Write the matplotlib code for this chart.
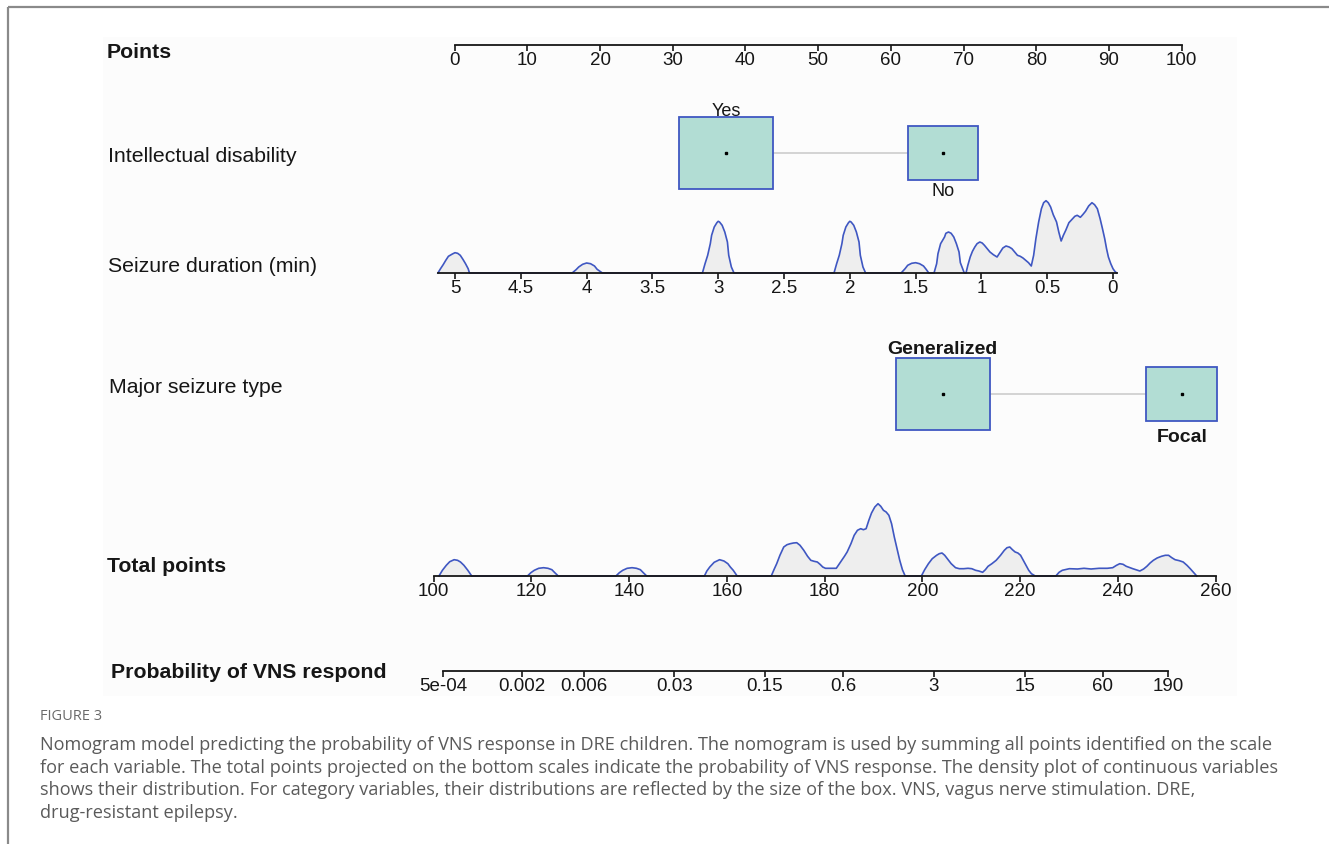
import numpy as np
import matplotlib
matplotlib.use("Agg")
import matplotlib.pyplot as plt
from matplotlib.patches import Rectangle

plt.rcParams['font.family'] = ['Liberation Sans', 'DejaVu Sans']

# ---- scale definitions ----
points_ticks = [0, 10, 20, 30, 40, 50, 60, 70, 80, 90, 100]

dur_ticks = [5, 4.5, 4, 3.5, 3, 2.5, 2, 1.5, 1, 0.5, 0]
dur_labels = ['5', '4.5', '4', '3.5', '3', '2.5', '2', '1.5', '1', '0.5', '0']

total_ticks = [100, 120, 140, 160, 180, 200, 220, 240, 260]

prob_ticks = [5e-4, 0.002, 0.006, 0.03, 0.15, 0.6, 3, 15, 60, 190]
prob_labels = ['5e-04', '0.002', '0.006', '0.03', '0.15', '0.6', '3', '15', '60', '190']

# categorical predictors: points given to each level and share of patients
id_levels = ['Yes', 'No']
id_points = [37.3, 67.2]
id_freq = [0.64, 0.36]

type_levels = ['Generalized', 'Focal']
type_points = [67.1, 100.0]
type_freq = [0.64, 0.36]

# density of seizure duration (min)
dur_x = [5.13, 5.11, 5.09, 5.07, 5.05, 5.02, 5.00, 4.98, 4.96, 4.94, 4.92, 4.90, 4.89,
         4.11, 4.08, 4.06, 4.03, 4.00, 3.97, 3.94, 3.92, 3.88,
         3.12, 3.10, 3.08, 3.06, 3.05, 3.03, 3.01, 3.00, 2.99, 2.97, 2.95, 2.93, 2.92, 2.90, 2.88,
         2.12, 2.10, 2.08, 2.06, 2.05, 2.03, 2.01, 2.00, 1.99, 1.97, 1.95, 1.93, 1.92, 1.90, 1.88,
         1.61, 1.58, 1.56, 1.53, 1.50, 1.47, 1.44, 1.42, 1.40,
         1.36, 1.34, 1.33, 1.31, 1.28, 1.27, 1.25, 1.23, 1.21, 1.19, 1.17, 1.16, 1.13,
         1.117, 1.103, 1.085, 1.068, 1.050, 1.033, 1.012, 0.994, 0.977, 0.956,
         0.935, 0.909, 0.881, 0.857, 0.837, 0.813, 0.789, 0.768, 0.747, 0.726,
         0.705, 0.684, 0.663, 0.642, 0.621, 0.603, 0.586, 0.565, 0.544, 0.527,
         0.509, 0.492, 0.474, 0.454, 0.429, 0.412, 0.394, 0.377, 0.359, 0.335,
         0.307, 0.290, 0.272, 0.248, 0.230, 0.209, 0.185, 0.160, 0.140, 0.119,
         0.098, 0.080, 0.063, 0.049, 0.035, 0.017, 0.000, -0.014, -0.028]
dur_density = [0, 4.3, 8.3, 12.7, 16.7, 19, 20.3, 19.7, 17.7, 13.7, 9.3, 4.3, 0,
               0, 3.3, 6, 8.7, 10, 9.3, 7, 3.7, 0,
               0, 9.3, 17.7, 29.3, 37.7, 46, 50.3, 51.7, 51, 47.7, 41, 31, 17.7, 6, 0,
               0, 9.3, 17.7, 29.3, 37.7, 46, 50.3, 51.7, 51, 47.7, 41, 31, 17.7, 6, 0,
               0, 4.3, 7.7, 9.7, 10.3, 9.3, 7, 3.7, 0,
               0, 9.3, 19.3, 29.3, 36, 39.7, 41, 39.7, 36, 29.3, 21, 10.3, 0,
               0, 7.7, 16, 21.7, 26, 29.3, 31, 30, 27.7, 24.3,
               21, 18.3, 16, 21, 25, 27, 26, 24.3, 21, 17.7,
               16.7, 15, 12.7, 10.3, 7, 17.7, 34.3, 51, 64.3, 70.3,
               72.3, 70.3, 66, 58.3, 51, 41, 32, 37.7, 42.7, 50.3,
               54.3, 56.7, 57.7, 55.7, 58.3, 61.7, 67, 70.3, 68.3, 64.3,
               54.3, 44.3, 34.3, 24.3, 16, 9.3, 4.3, 1.7, 0]

# density of total points
total_x = [101.1, 101.8, 102.6, 103.3, 104.2, 104.9, 105.5, 106.2, 107.0, 107.8,
           119.2, 119.9, 120.6, 121.5, 122.5, 123.4, 124.2, 124.8, 125.5,
           137.3, 138.0, 138.7, 139.6, 140.6, 141.5, 142.3, 142.9, 143.6,
           155.4, 155.9, 156.5, 157.4, 158.5, 159.4, 160.2, 160.7, 161.3, 162.1,
           169.08, 169.63, 170.19, 170.85, 171.63, 172.30, 172.96, 173.63, 174.29, 174.96,
           175.73, 176.51, 177.17, 177.84, 178.50, 179.06, 179.61, 180.17, 180.72, 181.61,
           182.38, 182.94, 183.49, 184.05, 184.60, 185.38, 186.04, 186.71, 187.37, 187.93,
           188.48, 189.04, 189.59, 190.26, 190.92, 191.48, 192.03, 192.58, 193.14, 193.69,
           194.25, 194.80, 195.36, 195.91, 196.47,
           199.79, 200.46, 201.23, 202.01, 202.90, 203.45, 204.01, 204.56, 205.11, 205.89,
           206.78, 207.55, 208.44, 209.33, 210.10, 210.88, 211.54, 212.32, 212.88, 213.43,
           214.21, 215.09, 215.98, 216.76, 217.31, 217.87, 218.42, 218.97, 219.53, 220.08,
           220.64, 221.19, 221.75, 222.30, 223.08,
           227.29, 227.96, 228.62, 230.06, 231.73, 233.06, 234.50, 236.16, 237.82, 238.93,
           239.71, 240.37, 241.04, 241.70, 243.04, 244.48, 245.25, 245.92, 246.58, 247.25,
           248.02, 248.91, 249.69, 250.35, 251.02, 251.69, 252.57, 253.35, 254.12, 254.79,
           255.45, 256.12]
total_density = [0, 5.7, 10.7, 14.3, 16.3, 15.7, 14, 10.7, 5.7, 0,
                 0, 3.3, 5.7, 7.7, 8.3, 7.7, 6.3, 3.3, 0,
                 0, 3.3, 5.7, 7.7, 8.3, 7.7, 6.3, 3.3, 0,
                 0, 5, 9, 13.7, 16.3, 15, 12.3, 9, 5.7, 0,
                 0, 6.3, 12.3, 20.7, 29, 31.3, 32.3, 33, 33.3, 30.7,
                 25.7, 19.7, 15.7, 14.7, 14, 11.7, 9, 7.7, 7.7, 7.7,
                 7.7, 11.7, 15.7, 19.7, 24, 32.3, 40.7, 45.7, 47.3, 46.3,
                 47.3, 55.7, 63, 69, 72.3, 69.7, 65.7, 64, 60.7, 52.3,
                 39, 27.3, 15.7, 6.3, 0,
                 0, 6.3, 12.3, 17.3, 20.7, 22.3, 23, 20.7, 17.3, 12.3,
                 8.3, 7.3, 7.3, 7.7, 7.3, 5.7, 5, 3.7, 6.3, 9.7,
                 12.3, 15.7, 20.7, 25.7, 28.3, 29, 26.3, 24, 23, 20.7,
                 15.7, 10.7, 5.7, 2.3, 0,
                 0, 3.7, 5.7, 7.3, 7, 7.7, 7, 7.7, 7.7, 8.3,
                 10.7, 12.3, 11.7, 9.7, 7.3, 5, 7, 9.7, 13, 15.7,
                 18, 19.7, 20.7, 20.7, 18.3, 16.3, 15.3, 14, 10.7, 7.3,
                 3.7, 0]

caption_lines = [
    "Nomogram model predicting the probability of VNS response in DRE children. The nomogram is used by summing all points identified on the scale",
    "for each variable. The total points projected on the bottom scales indicate the probability of VNS response. The density plot of continuous variables",
    "shows their distribution. For category variables, their distributions are reflected by the size of the box. VNS, vagus nerve stimulation. DRE,",
    "drug-resistant epilepsy.",
]

# ---- styling ----
W, H = 1329, 845
BLUE = '#3f57c2'
TEAL = '#b2ddd4'
FILL = '#eeeeee'
INK = '#161616'
TICK_FS = 13.5
ROW_FS = 15.3

fig = plt.figure(figsize=(W / 100, H / 100), dpi=100)
fig.patch.set_facecolor('white')


def rect(x0, y0, x1, y1):
    """pixel box (top-left origin) -> figure fraction rect"""
    return [x0 / W, 1 - y1 / H, (x1 - x0) / W, (y1 - y0) / H]


def fig_xy(x, y):
    return x / W, 1 - y / H


# page frame and light panel behind the nomogram
bg = fig.add_axes([0, 0, 1, 1], zorder=-5)
bg.set_xlim(0, W)
bg.set_ylim(H, 0)
bg.axis('off')
bg.add_patch(Rectangle((103, 38), 1134, 659, facecolor='#fcfcfc', edgecolor='none'))
bg.plot([7.5, W], [7.5, 7.5], color='#8a8a8a', lw=1.6, solid_capstyle='butt')
bg.plot([7.5, 7.5], [7.5, H], color='#8a8a8a', lw=1.6, solid_capstyle='butt')


def scale_axes(v0, p0, v1, p1, lo, hi, y_line, height, log=False):
    """axes whose bottom spine is a scale: value v0 sits at pixel p0, v1 at p1"""
    f = np.log10 if log else (lambda v: v)
    k = (p1 - p0) / (f(v1) - f(v0))
    xa = p0 + (f(lo) - f(v0)) * k
    xb = p0 + (f(hi) - f(v0)) * k
    ax = fig.add_axes(rect(min(xa, xb), y_line - height, max(xa, xb), y_line))
    if log:
        ax.set_xscale('log')
    ax.set_xlim(lo, hi)
    ax.set_ylim(0, height)
    ax.patch.set_alpha(0)
    for s in ('top', 'left', 'right'):
        ax.spines[s].set_visible(False)
    ax.spines['bottom'].set_linewidth(1.3)
    ax.spines['bottom'].set_color(INK)
    ax.set_yticks([])
    ax.tick_params(axis='x', which='major', direction='out', length=4.5, width=1.2,
                   pad=0, labelsize=TICK_FS, colors=INK)
    ax.tick_params(axis='x', which='minor', length=0)
    return ax


def draw_density(ax, x, d):
    ax.fill_between(x, d, 0, color=FILL, lw=0, clip_on=False, zorder=1)
    ax.plot(x, d, color=BLUE, lw=1.2, clip_on=False, zorder=2)


# Points scale
ax_pts = scale_axes(0, 454.7, 100, 1181.7, 0, 100, 46, 10)
ax_pts.set_xticks(points_ticks)

# Seizure duration scale with its density
ax_dur = scale_axes(5, 455, 0, 1113, max(dur_x), min(dur_x), 274, 90)
ax_dur.set_xticks(dur_ticks)
ax_dur.set_xticklabels(dur_labels)
draw_density(ax_dur, dur_x, dur_density)

# Total points scale with its density
ax_tot = scale_axes(100, 433.6, 260, 1215.7, 100, 260, 577, 90)
ax_tot.set_xticks(total_ticks)
draw_density(ax_tot, total_x, total_density)

# Probability scale (log)
ax_prob = scale_axes(5e-4, 443.4, 190, 1167.9, 5e-4, 190, 672, 10, log=True)
ax_prob.set_xticks(prob_ticks)
ax_prob.set_xticklabels(prob_labels)


def category_row(y_center, levels, pts, freq, bold, gap_above, gap_below):
    ax = fig.add_axes(rect(454.7, y_center - 50, 1181.7, y_center + 50))
    ax.set_xlim(0, 100)
    ax.set_ylim(50, -50)  # y grows downward, in pixels
    ax.axis('off')
    px_per_pt = (1181.7 - 454.7) / 100
    sizes = [(117.5 * np.sqrt(f) / px_per_pt, 90 * np.sqrt(f)) for f in freq]
    (w0, h0), (w1, h1) = sizes
    ax.plot([pts[0] + w0 / 2, pts[1] - w1 / 2], [0, 0], color='#cccccc', lw=1.2,
            zorder=1, clip_on=False)
    style = dict(ha='center', va='baseline', color=INK,
                 fontsize=14 if bold else 13, fontweight='bold' if bold else 'normal')
    for i, (lv, p, (w, h)) in enumerate(zip(levels, pts, sizes)):
        ax.add_patch(Rectangle((p - w / 2, -h / 2), w, h, facecolor=TEAL,
                               edgecolor=BLUE, lw=1.3, zorder=2, clip_on=False))
        ax.plot(p, 0, 's', color='black', ms=1.7, zorder=3, clip_on=False)
        if i == 0:
            ax.text(p, -h / 2 - gap_above, lv, **style)
        else:
            ax.text(p, h / 2 + gap_below, lv, **style)
    return ax


category_row(154, id_levels, id_points, id_freq, bold=False, gap_above=2, gap_below=15)
category_row(395, type_levels, type_points, type_freq, bold=True, gap_above=5, gap_below=20)

# row titles
row_titles = [
    ("Points", 107, 53, 'bold'),
    ("Intellectual disability", 108, 156, 'normal'),
    ("Seizure duration (min)", 108, 267, 'normal'),
    ("Major seizure type", 109, 388, 'normal'),
    ("Total points", 107, 566, 'bold'),
    ("Probability of VNS respond", 111, 673, 'bold'),
]
for txt, x, y, wt in row_titles:
    fig.text(*fig_xy(x, y), txt, ha='left', va='center', fontsize=ROW_FS,
             fontweight=wt, color=INK)

# caption
cap_font = ['Open Sans', 'DejaVu Sans']
fig.text(*fig_xy(40, 717), "FIGURE 3", ha='left', va='center', fontsize=10.5,
         color='#6a6a6a', family=cap_font)
for i, line in enumerate(caption_lines):
    fig.text(*fig_xy(40, 745 + i * 22.7), line, ha='left', va='center',
             fontsize=13.05, color='#5a5a5a', family=cap_font)

fig.savefig('out.png', dpi=100)
